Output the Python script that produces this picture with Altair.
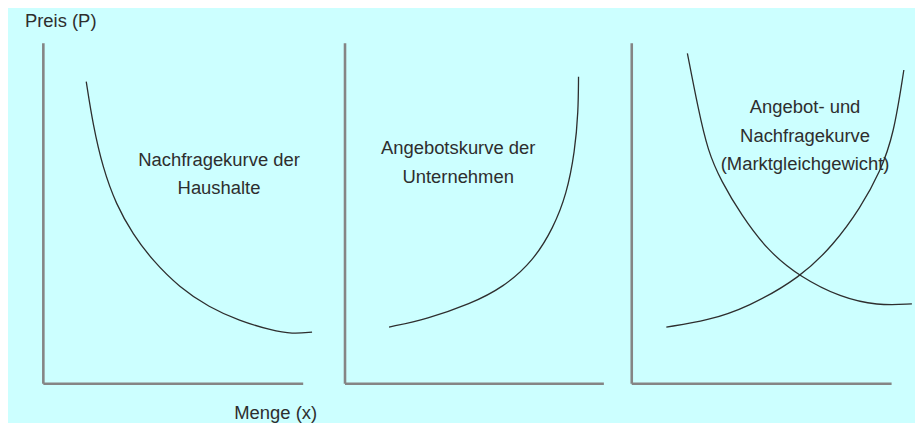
import altair as alt
import pandas as pd

# ---- data (axis units 0..10 in every panel) ----
# Panel 1: Nachfragekurve der Haushalte
d1_x = [1.67, 1.93, 2.31, 2.82, 3.46, 4.23, 5.25, 6.40, 7.55, 8.82, 9.59, 10.36]
d1_y = [8.86, 7.59, 6.32, 5.25, 4.38, 3.60, 2.82, 2.23, 1.84, 1.55, 1.45, 1.50]
# Panel 2: Angebotskurve der Unternehmen
s2_x = [1.72, 3.19, 4.86, 6.14, 7.30, 8.07, 8.58, 8.90, 9.03, 9.04]
s2_y = [1.65, 1.89, 2.33, 2.82, 3.60, 4.57, 5.55, 6.81, 7.98, 9.00]
# Panel 3: Angebot- und Nachfragekurve (Marktgleichgewicht)
d3_x = [2.16, 2.57, 2.95, 3.46, 4.22, 5.25, 6.52, 8.06, 9.46, 10.80]
d3_y = [9.69, 8.08, 6.81, 5.94, 4.96, 3.89, 3.11, 2.52, 2.28, 2.33]
s3_x = [1.35, 2.95, 4.48, 6.52, 7.80, 8.82, 9.59, 10.10, 10.49]
s3_y = [1.65, 1.84, 2.23, 3.11, 4.08, 5.15, 6.23, 7.30, 9.20]

label_text = [
    "Nachfragekurve der\nHaushalte",
    "Angebotskurve der\nUnternehmen",
    "Angebot- und\nNachfragekurve\n(Marktgleichgewicht)",
]
label_x = [6.78, 4.39, 6.69]
label_y = [6.56, 6.90, 8.10]   # position of the first line of each label

y_title = "Preis (P)"
x_title = "Menge (x)"

# ---- styles ----
BG = "#ccffff"
AXIS_GRAY = "#858585"
INK = "#2e2e2e"
FONT = "Liberation Sans"
FS = 18.5


def curves(parts):
    rows = []
    for name, xs, ys in parts:
        for i, (a, b) in enumerate(zip(xs, ys)):
            rows.append({"curve": name, "i": i, "x": a, "y": b})
    return pd.DataFrame(rows)


def panel(parts, k, width, x_axis_title=None):
    xa = dict(domain=True, domainColor=AXIS_GRAY, domainWidth=2.6, ticks=False,
              labels=False, grid=False, title=None)
    if x_axis_title:
        xa.update(title=x_axis_title, titleX=275, titleY=29, titleAlign="right",
                  titleBaseline="middle", titleFont=FONT, titleFontSize=FS,
                  titleFontWeight="normal", titleColor=INK)
    ya = dict(domain=True, domainColor=AXIS_GRAY, domainWidth=2.6, ticks=False,
              labels=False, grid=False, title=None)
    xs = alt.Scale(domain=[0, 10], nice=False, zero=False)
    ys = alt.Scale(domain=[0, 10], nice=False, zero=False)
    line = alt.Chart(curves(parts)).mark_line(
        interpolate="basis", clip=False, color=INK, strokeWidth=1.3
    ).encode(
        x=alt.X("x:Q", scale=xs, axis=alt.Axis(**xa)),
        y=alt.Y("y:Q", scale=ys, axis=alt.Axis(**ya)),
        detail="curve:N",
        order="i:Q",
    )
    lab = pd.DataFrame({"x": [label_x[k]], "y": [label_y[k]], "t": [label_text[k]]})
    text = alt.Chart(lab).mark_text(
        lineBreak="\n", lineHeight=28.5, font=FONT, fontSize=FS, color=INK,
        align="center", baseline="middle"
    ).encode(x=alt.X("x:Q", scale=xs), y=alt.Y("y:Q", scale=ys), text="t:N")
    return alt.layer(line, text).properties(width=width, height=342)


p1 = panel([("Nachfrage", d1_x, d1_y)], 0, 261, x_title)
p2 = panel([("Angebot", s2_x, s2_y)], 1, 260)
p3 = panel([("Nachfrage", d3_x, d3_y), ("Angebot", s3_x, s3_y)], 2, 261)

chart = alt.hconcat(p1, p2, p3, spacing=28).properties(
    title=alt.TitleParams(y_title, anchor="start", font=FONT, fontSize=FS,
                          fontWeight="normal", color=INK, dx=-18, offset=12),
    padding={"left": 17, "top": 3, "right": 0, "bottom": 0},
).configure(background=BG).configure_view(stroke=None)

chart.save("out.html", embed_options={"renderer": "svg", "actions": False})
